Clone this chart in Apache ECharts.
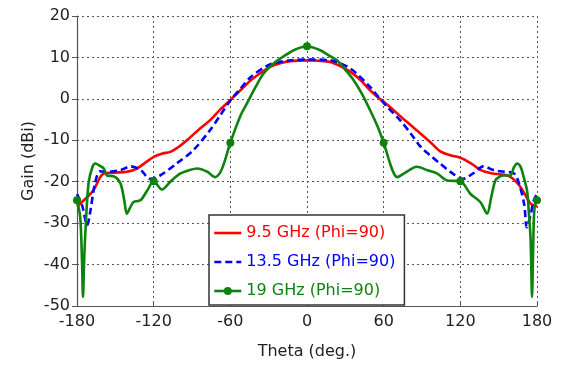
<!DOCTYPE html>
<html>
<head>
<meta charset="utf-8">
<script src="https://cdn.jsdelivr.net/npm/echarts@6/dist/echarts.min.js"></script>
<style>
html,body{margin:0;padding:0;background:#fff;}
#chart{width:562px;height:366px;}
</style>
</head>
<body>
<div id="chart"></div>
<script>
// Tick values
var xTicks = [-180, -120, -60, 0, 60, 120, 180];
var yTicks = [-50, -40, -30, -20, -10, 0, 10, 20];

// 9.5 GHz (Phi=90)
var thetaRed = [-180,-172,-167,-162,-159,-150,-141,-133,-127,-120,-113,-107,-100,-94,-85,-76,-68,-60,-52,-44,-36,-29,-21,-13,0,9,18,26,34,42,49,55,60,67,73,81,89,97,104,112,120,128,136,145,151,157,162,167,171,175,180];
var gainRed  = [-26,-23.7,-22,-19,-18,-17.8,-17.6,-16.8,-15.5,-14,-13.2,-12.8,-11.5,-10,-7.5,-5.2,-2.6,-0.3,2.1,4.5,6.3,7.7,8.6,9.1,9.3,9.2,8.9,7.9,6.5,4.5,2.2,0.5,-0.7,-2.5,-4.2,-6.3,-8.4,-10.6,-12.6,-13.6,-14.2,-15.5,-17.2,-18,-18.2,-18.5,-19.5,-21.3,-23.3,-25.3,-26];

// 13.5 GHz (Phi=90)
var thetaBlue = [-180,-176,-172,-169.5,-166,-162,-156,-146,-138,-130,-123,-115,-102,-89,-76,-68,-60,-52,-44,-29,-13,0,18,34,49,55,60,63,73,81,89,97,104,113,122,130,138,146,154,162,166,170,172,175,177.5,180];
var gainBlue  = [-23,-25.7,-30.5,-27,-20.5,-17.5,-17.6,-17.2,-16.3,-17.2,-19.3,-18.5,-15.6,-12.4,-7.6,-4,-0.4,2.5,5.3,8.3,9.3,9.5,9.3,7.3,3,0.8,-1,-2,-5.2,-8.3,-11.6,-13.8,-15.6,-17.8,-19.3,-18,-16.3,-17.2,-17.6,-18,-20.5,-25.5,-31,-28,-24.5,-23];

// 19 GHz (Phi=90)
var thetaGreen = [-180,-177.5,-176,-175.3,-174.5,-173.5,-171,-168,-165.7,-162,-159,-156.5,-151,-146,-143,-141,-138,-135.7,-130.4,-125,-120,-113.5,-107,-99,-92,-86,-78,-72,-68,-65,-60,-52,-47,-40,-34,-27,-21,-10,0,10,17,23.5,30,36.5,43,49.5,55,60,65,68,70.4,76,86,94,101.7,109.6,120,127.8,135.6,141,144,147.4,151,154,159,162,164.4,167,169.6,172.2,173.5,175,176.1,177,177.6,178.5,180];
var gainGreen  = [-24.5,-28.5,-40,-47.8,-40,-32.5,-20.4,-16.5,-15.6,-16.2,-16.8,-18.5,-18.7,-20.4,-24.5,-27.7,-26,-24.9,-24.5,-22.1,-19.9,-21.9,-20,-18,-17.2,-16.8,-17.6,-18.9,-17.8,-15.6,-10.6,-4,-1.1,3,6.1,8.3,9.7,11.8,12.7,11.8,10.5,9.3,7,4.5,1.2,-2.8,-6.5,-10.6,-15.6,-18,-18.9,-18,-16.4,-17.2,-18,-19.7,-19.9,-22.9,-24.9,-27.7,-24,-19.7,-18.7,-18.5,-18.5,-16.5,-15.6,-16.3,-18.9,-22.1,-26.9,-34,-47.8,-36,-28.5,-25.5,-24.5];

var names = ['9.5 GHz (Phi=90)', '13.5 GHz (Phi=90)', '19 GHz (Phi=90)'];
var colors = ['#ff0000', '#0000ff', '#0e820e'];

function pairs(xs, ys) { return xs.map(function (x, i) { return [x, ys[i]]; }); }

var FONT = 'DejaVu Sans';
var chart = echarts.init(document.getElementById('chart'), null, {renderer: 'canvas'});
chart.setOption({
  backgroundColor: '#ffffff',
  animation: false,
  textStyle: {fontFamily: FONT},
  grid: {left: 77, right: 25, top: 16, bottom: 60, containLabel: false},
  xAxis: {
    type: 'value', min: -180, max: 180, interval: 60,
    name: 'Theta (deg.)', nameLocation: 'middle', nameGap: 38,
    nameTextStyle: {fontFamily: FONT, fontSize: 16, color: '#222'},
    axisLine: {show: true, onZero: false, lineStyle: {color: '#555', width: 1.2}},
    axisTick: {show: true, inside: true, length: 4, lineStyle: {color: '#555'}},
    axisLabel: {fontFamily: FONT, fontSize: 16, color: '#222', margin: 8,
      customValues: xTicks},
    splitLine: {show: true, lineStyle: {type: [2, 3], color: '#555', width: 1}}
  },
  yAxis: {
    type: 'value', min: -50, max: 20, interval: 10,
    name: 'Gain (dBi)', nameLocation: 'middle', nameGap: 40, nameRotate: 90,
    nameMoveOverlap: false,
    nameTextStyle: {fontFamily: FONT, fontSize: 16, color: '#222'},
    axisLine: {show: true, onZero: false, lineStyle: {color: '#555', width: 1.2}},
    axisTick: {show: true, inside: false, length: 5, lineStyle: {color: '#555'}},
    axisLabel: {fontFamily: FONT, fontSize: 16, color: '#222', margin: 7,
      customValues: yTicks},
    splitLine: {show: true, lineStyle: {type: [2, 3], color: '#555', width: 1}}
  },
  legend: {
    orient: 'vertical', left: 209, top: 215,
    backgroundColor: '#ffffff', borderColor: '#333', borderWidth: 1.5, borderRadius: 0,
    padding: [10, 9, 6, 4], itemGap: 13, itemWidth: 27, itemHeight: 10,
    textStyle: {fontFamily: FONT, fontSize: 16},
    data: [
      {name: names[0], itemStyle: {color: 'rgba(0,0,0,0)', borderWidth: 0}, lineStyle: {width: 2.6}, textStyle: {color: colors[0]}},
      {name: names[1], itemStyle: {color: 'rgba(0,0,0,0)', borderWidth: 0}, lineStyle: {width: 2.6}, textStyle: {color: colors[1]}},
      {name: names[2], lineStyle: {width: 2.6}, textStyle: {color: colors[2]}}
    ]
  },
  series: [
    {
      name: names[0], type: 'line', data: pairs(thetaRed, gainRed),
      smooth: 0.3, symbol: 'none', color: colors[0],
      lineStyle: {color: colors[0], width: 2.6}, z: 3
    },
    {
      name: names[1], type: 'line', data: pairs(thetaBlue, gainBlue),
      smooth: 0.3, symbol: 'none', color: colors[1],
      lineStyle: {color: colors[1], width: 2.6, type: [7, 4]}, z: 4
    },
    {
      name: names[2], type: 'line', data: pairs(thetaGreen, gainGreen),
      smooth: 0.3, symbol: 'circle', showSymbol: true, showAllSymbol: true,
      symbolSize: function (v) { return (v[0] % 60 === 0) ? 8 : 0; },
      color: colors[2], itemStyle: {color: colors[2]},
      lineStyle: {color: colors[2], width: 2.6}, z: 5
    }
  ]
});
</script>
</body>
</html>
